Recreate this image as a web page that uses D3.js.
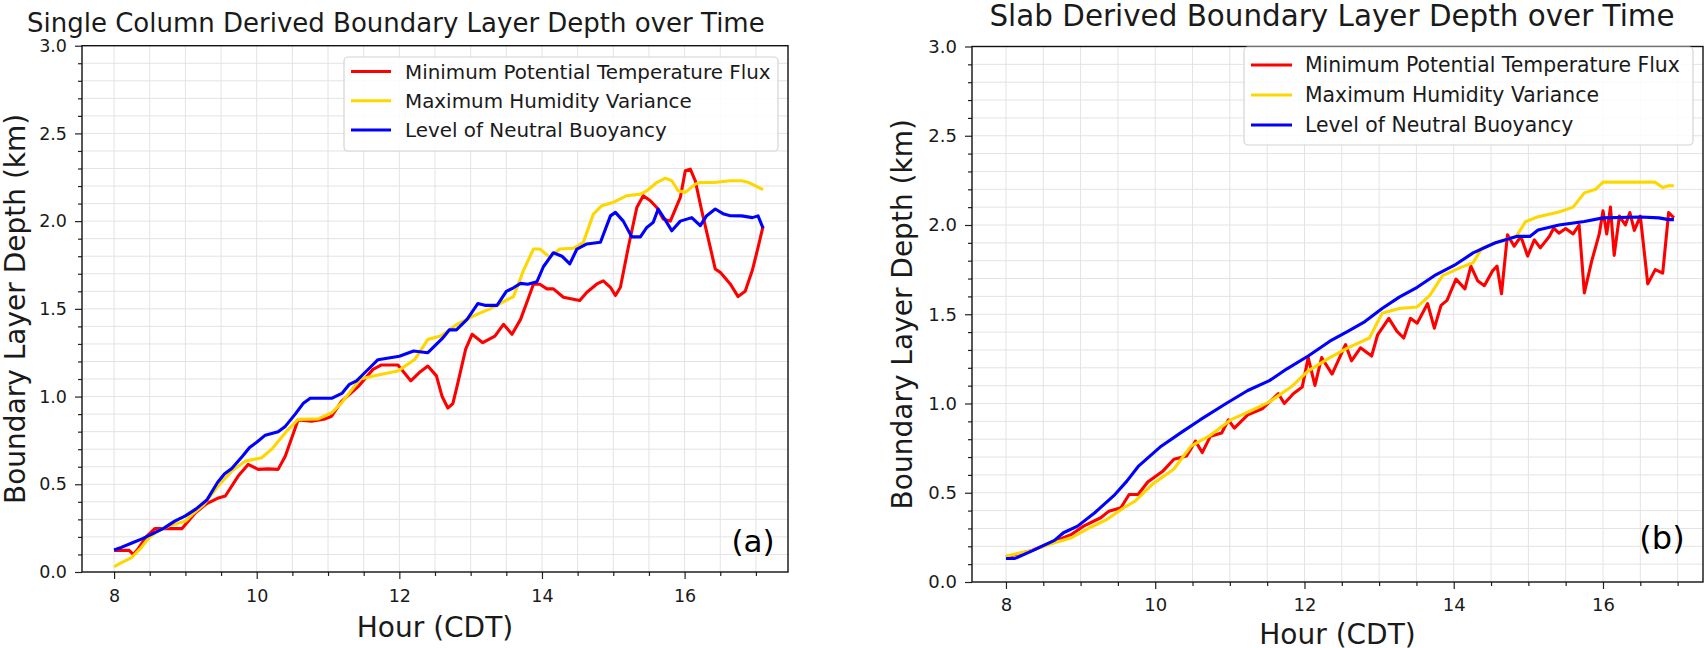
<!DOCTYPE html>
<html>
<head>
<meta charset="utf-8">
<script src="https://cdn.jsdelivr.net/npm/d3@7"></script>
<style>
  body { margin: 0; background: #fff; }
  svg { display: block; font-family: "DejaVu Sans", sans-serif; }
</style>
</head>
<body>
<svg id="fig" width="1708" height="648"></svg>
<script>
// ---- data (hour CDT, depth km) ----
const seriesNames = ["Minimum Potential Temperature Flux", "Maximum Humidity Variance", "Level of Neutral Buoyancy"];
const xTicks = [8, 10, 12, 14, 16];
const yTicks = [0, 0.5, 1.0, 1.5, 2.0, 2.5, 3.0];
const panelTitles = ["Single Column Derived Boundary Layer Depth over Time", "Slab Derived Boundary Layer Depth over Time"];
const panelLetters = ["(a)", "(b)"];

// (a) single column
const colMPTF = [[8.0,0.123],[8.21,0.123],[8.27,0.10],[8.33,0.128],[8.45,0.2],[8.57,0.247],[8.95,0.247],[9.14,0.338],[9.3,0.39],[9.45,0.42],[9.56,0.433],[9.74,0.547],[9.88,0.613],[10.02,0.585],[10.16,0.588],[10.30,0.585],[10.40,0.66],[10.58,0.866],[10.77,0.86],[10.96,0.873],[11.05,0.888],[11.19,0.973],[11.43,1.06],[11.63,1.155],[11.75,1.18],[11.98,1.18],[12.16,1.09],[12.28,1.137],[12.40,1.174],[12.52,1.118],[12.6,1.0],[12.68,0.935],[12.75,0.96],[12.81,1.06],[12.93,1.27],[13.02,1.355],[13.17,1.307],[13.34,1.345],[13.46,1.412],[13.58,1.355],[13.70,1.44],[13.8,1.55],[13.88,1.64],[13.97,1.64],[14.07,1.614],[14.16,1.614],[14.30,1.566],[14.53,1.547],[14.63,1.595],[14.77,1.642],[14.86,1.66],[14.96,1.623],[15.03,1.576],[15.10,1.623],[15.21,1.85],[15.33,2.078],[15.42,2.145],[15.52,2.116],[15.61,2.078],[15.70,2.012],[15.80,2.0],[15.94,2.135],[16.01,2.287],[16.08,2.296],[16.15,2.23],[16.24,2.06],[16.36,1.85],[16.43,1.727],[16.50,1.708],[16.64,1.642],[16.75,1.57],[16.85,1.6],[16.95,1.72],[17.03,1.85],[17.1,1.97]];
const colMHV = [[8.0,0.03],[8.09,0.05],[8.24,0.08],[8.36,0.13],[8.5,0.2],[8.6,0.23],[8.76,0.262],[9.0,0.29],[9.1,0.33],[9.25,0.38],[9.46,0.49],[9.65,0.575],[9.84,0.632],[10.07,0.651],[10.21,0.70],[10.44,0.812],[10.58,0.87],[10.86,0.873],[11.05,0.907],[11.19,0.964],[11.45,1.10],[11.75,1.127],[11.98,1.146],[12.22,1.213],[12.40,1.326],[12.58,1.345],[12.81,1.412],[13.04,1.46],[13.27,1.5],[13.60,1.57],[13.74,1.718],[13.88,1.841],[13.97,1.841],[14.11,1.794],[14.25,1.841],[14.44,1.845],[14.58,1.879],[14.72,2.04],[14.84,2.088],[15.0,2.107],[15.19,2.145],[15.38,2.154],[15.47,2.173],[15.61,2.22],[15.73,2.245],[15.82,2.23],[15.91,2.173],[16.01,2.164],[16.15,2.211],[16.22,2.22],[16.41,2.22],[16.64,2.23],[16.8,2.23],[16.9,2.22],[17.0,2.2],[17.1,2.18]];
const colLNB = [[8.0,0.125],[8.1,0.14],[8.25,0.165],[8.4,0.19],[8.55,0.22],[8.7,0.25],[8.85,0.29],[9.0,0.32],[9.15,0.36],[9.3,0.41],[9.45,0.51],[9.55,0.56],[9.65,0.59],[9.8,0.66],[9.9,0.71],[10.0,0.74],[10.12,0.78],[10.3,0.8],[10.4,0.83],[10.54,0.9],[10.65,0.96],[10.75,0.99],[10.85,0.99],[11.05,0.99],[11.2,1.02],[11.3,1.07],[11.4,1.09],[11.5,1.13],[11.6,1.17],[11.7,1.21],[11.85,1.22],[12.0,1.23],[12.2,1.26],[12.4,1.25],[12.5,1.29],[12.6,1.33],[12.7,1.38],[12.8,1.38],[12.95,1.44],[13.1,1.53],[13.2,1.52],[13.37,1.52],[13.5,1.6],[13.6,1.62],[13.7,1.645],[13.8,1.64],[13.93,1.655],[14.02,1.74],[14.16,1.82],[14.28,1.8],[14.39,1.756],[14.49,1.841],[14.63,1.87],[14.82,1.88],[14.96,2.03],[15.03,2.05],[15.14,2.0],[15.26,1.91],[15.38,1.91],[15.47,1.964],[15.56,1.993],[15.63,2.069],[15.75,1.993],[15.82,1.945],[15.94,2.0],[16.1,2.02],[16.22,1.974],[16.31,2.031],[16.43,2.069],[16.55,2.04],[16.64,2.031],[16.8,2.03],[16.95,2.02],[17.03,2.03],[17.07,1.99],[17.1,1.96]];

// (b) slab
const slabMPTF = [[8.0,0.14],[8.35,0.177],[8.65,0.229],[8.88,0.267],[9.04,0.313],[9.27,0.36],[9.38,0.397],[9.54,0.416],[9.65,0.49],[9.77,0.49],[9.9,0.56],[10.1,0.62],[10.25,0.688],[10.42,0.706],[10.54,0.789],[10.63,0.725],[10.74,0.817],[10.89,0.835],[10.98,0.908],[11.06,0.862],[11.24,0.936],[11.44,0.972],[11.65,1.055],[11.73,1.0],[11.85,1.055],[11.97,1.092],[12.05,1.257],[12.14,1.101],[12.23,1.257],[12.37,1.165],[12.55,1.33],[12.63,1.239],[12.75,1.312],[12.90,1.266],[12.98,1.385],[13.13,1.477],[13.24,1.404],[13.33,1.367],[13.42,1.477],[13.51,1.45],[13.65,1.56],[13.74,1.422],[13.83,1.55],[13.91,1.578],[14.03,1.697],[14.15,1.642],[14.23,1.77],[14.32,1.688],[14.41,1.66],[14.52,1.743],[14.58,1.77],[14.64,1.615],[14.72,1.945],[14.81,1.881],[14.90,1.936],[14.99,1.826],[15.08,1.917],[15.16,1.872],[15.28,1.936],[15.34,1.982],[15.41,1.954],[15.5,1.98],[15.6,1.95],[15.68,2.0],[15.75,1.62],[15.85,1.8],[15.95,1.95],[16.0,2.08],[16.05,1.95],[16.1,2.1],[16.15,1.83],[16.22,2.05],[16.3,2.0],[16.36,2.07],[16.42,1.97],[16.5,2.05],[16.6,1.67],[16.7,1.75],[16.8,1.73],[16.88,2.07],[16.95,2.04]];
const slabMHV = [[8.0,0.145],[8.35,0.177],[8.65,0.22],[8.88,0.248],[9.12,0.304],[9.35,0.35],[9.58,0.416],[9.73,0.453],[9.96,0.547],[10.25,0.633],[10.48,0.761],[10.72,0.817],[11.01,0.908],[11.30,0.963],[11.53,1.009],[11.82,1.092],[12.05,1.183],[12.34,1.257],[12.58,1.312],[12.87,1.367],[13.04,1.505],[13.27,1.532],[13.51,1.541],[13.68,1.606],[13.85,1.716],[14.09,1.761],[14.26,1.789],[14.38,1.872],[14.61,1.908],[14.84,1.936],[14.96,2.018],[15.13,2.046],[15.41,2.073],[15.6,2.1],[15.75,2.18],[15.9,2.2],[16.0,2.24],[16.7,2.24],[16.8,2.21],[16.88,2.22],[16.95,2.22]];
const slabLNB = [[8.0,0.132],[8.12,0.132],[8.35,0.174],[8.65,0.233],[8.77,0.276],[8.96,0.313],[9.19,0.388],[9.46,0.49],[9.62,0.565],[9.78,0.651],[10.08,0.761],[10.37,0.844],[10.60,0.908],[10.95,1.0],[11.24,1.073],[11.53,1.128],[11.76,1.193],[12.05,1.266],[12.34,1.349],[12.58,1.404],[12.81,1.459],[13.04,1.532],[13.27,1.596],[13.51,1.651],[13.74,1.716],[14.03,1.78],[14.26,1.844],[14.55,1.899],[14.84,1.936],[15.02,1.936],[15.13,1.972],[15.41,2.0],[15.75,2.02],[16.0,2.04],[16.5,2.045],[16.75,2.04],[16.88,2.03],[16.95,2.03]];

const colours = ["#ff0000", "#ffd700", "#0000ff"];
const ink = "#1a1a1a";

const svg = d3.select("#fig");

function drawPanel(p) {
  const x = d3.scaleLinear().domain(p.xDomain).range([p.l, p.r]);
  const y = d3.scaleLinear().domain([0, 3]).range([p.b, p.t]);
  const g = svg.append("g");

  // grid, every minor step
  const xGrid = d3.range(8, 17.01, 0.5);
  const yGrid = d3.range(0.1, 2.95, 0.1);
  g.append("g").selectAll("line").data(xGrid).join("line")
    .attr("x1", d => x(d)).attr("x2", d => x(d))
    .attr("y1", p.t).attr("y2", p.b)
    .attr("stroke", "#e3e3e3").attr("stroke-width", 1);
  g.append("g").selectAll("line").data(yGrid).join("line")
    .attr("x1", p.l).attr("x2", p.r)
    .attr("y1", d => y(d)).attr("y2", d => y(d))
    .attr("stroke", "#e3e3e3").attr("stroke-width", 1);

  // lines
  const clipId = "clip" + p.key;
  g.append("clipPath").attr("id", clipId).append("rect")
    .attr("x", p.l).attr("y", p.t).attr("width", p.r - p.l).attr("height", p.b - p.t);
  const line = d3.line().x(d => x(d[0])).y(d => y(d[1]));
  g.append("g").attr("clip-path", `url(#${clipId})`)
    .selectAll("path").data(p.series).join("path")
    .attr("fill", "none")
    .attr("stroke", (d, i) => colours[i])
    .attr("stroke-width", 3.1)
    .attr("stroke-linejoin", "round")
    .attr("d", d => line(d));

  // axes (major + minor ticks)
  const xMinor = d3.range(7.5, 17.6, 0.5).filter(v => !xTicks.includes(v) && v >= p.xDomain[0] && v <= p.xDomain[1]);
  const yMinor = d3.range(0, 3.01, 0.1).map(v => +v.toFixed(1)).filter(v => !yTicks.includes(v));

  g.append("g").attr("transform", `translate(0,${p.b})`)
    .call(d3.axisBottom(x).tickValues(xTicks).tickSize(7).tickPadding(p.xPad).tickFormat(d3.format("d")));
  g.append("g").attr("transform", `translate(0,${p.b})`)
    .call(d3.axisBottom(x).tickValues(xMinor).tickSize(4).tickFormat(""));
  g.append("g").attr("transform", `translate(${p.l},0)`)
    .call(d3.axisLeft(y).tickValues(yTicks).tickSize(7).tickPadding(8).tickFormat(d3.format(".1f")));
  g.append("g").attr("transform", `translate(${p.l},0)`)
    .call(d3.axisLeft(y).tickValues(yMinor).tickSize(4).tickFormat(""));

  g.selectAll(".domain").remove();
  g.selectAll(".tick line").attr("stroke", "#222").attr("stroke-width", 1.2);
  g.selectAll(".tick text").attr("fill", ink).attr("font-size", p.fs.tick)
    .attr("font-family", "DejaVu Sans");

  // spines
  g.append("rect")
    .attr("x", p.l).attr("y", p.t).attr("width", p.r - p.l).attr("height", p.b - p.t)
    .attr("fill", "none").attr("stroke", "#111").attr("stroke-width", 1.4);

  // title and axis labels
  g.append("text")
    .attr("x", p.titleX).attr("y", p.titleY)
    .attr("text-anchor", p.titleAnchor).attr("font-size", p.fs.title).attr("fill", ink)
    .text(p.title);
  g.append("text")
    .attr("x", (p.l + p.r) / 2).attr("y", p.xLabelY)
    .attr("text-anchor", "middle").attr("font-size", p.fs.label).attr("fill", ink)
    .text("Hour (CDT)");
  g.append("text")
    .attr("transform", `translate(${p.yLabelX},${(p.t + p.b) / 2}) rotate(-90)`)
    .attr("text-anchor", "middle").attr("dy", "0.35em")
    .attr("font-size", p.fs.label).attr("fill", ink)
    .text("Boundary Layer Depth (km)");

  // panel letter
  g.append("text")
    .attr("x", p.letterX).attr("y", p.letterY)
    .attr("text-anchor", "middle").attr("dy", "0.35em")
    .attr("font-size", p.fs.letter).attr("fill", "#000")
    .text(p.letter);

  // legend
  const lg = p.legend;
  const leg = g.append("g");
  leg.append("rect")
    .attr("x", lg.x).attr("y", lg.y).attr("width", lg.w).attr("height", lg.h)
    .attr("rx", 4).attr("fill", "#fff").attr("fill-opacity", 0.85)
    .attr("stroke", "#d4d4d4").attr("stroke-width", 1.2);
  seriesNames.forEach((name, i) => {
    const cy = lg.row0 + i * lg.step;
    leg.append("line")
      .attr("x1", lg.x + 7).attr("x2", lg.x + 7 + lg.handle)
      .attr("y1", cy).attr("y2", cy)
      .attr("stroke", colours[i]).attr("stroke-width", 3);
    leg.append("text")
      .attr("x", lg.textX).attr("y", cy).attr("dy", "0.36em")
      .attr("font-size", p.fs.legend).attr("fill", ink)
      .text(name);
  });
}

drawPanel({
  key: "a",
  l: 82, r: 788, t: 45.7, b: 572,
  xDomain: [7.55, 17.45],
  xPad: 11,
  series: [colMPTF, colMHV, colLNB],
  title: panelTitles[0], titleX: 27, titleAnchor: "start", titleY: 32,
  xLabelY: 637, yLabelX: 15,
  letter: panelLetters[0], letterX: 753, letterY: 541,
  fs: { title: 26, label: 28, tick: 17.5, legend: 19.9, letter: 31 },
  legend: { x: 344, y: 57, w: 434, h: 94, row0: 71.5, step: 29.3, handle: 40, textX: 405 }
});

drawPanel({
  key: "b",
  l: 972, r: 1703, t: 46.5, b: 582,
  xDomain: [7.545, 17.34],
  xPad: 9,
  series: [slabMPTF, slabMHV, slabLNB],
  title: panelTitles[1], titleX: 1332, titleAnchor: "middle", titleY: 26,
  xLabelY: 643.5, yLabelX: 902,
  letter: panelLetters[1], letterX: 1662, letterY: 538,
  fs: { title: 29.4, label: 28, tick: 18, legend: 20.4, letter: 32 },
  legend: { x: 1244, y: 47, w: 449, h: 98, row0: 65, step: 30, handle: 41, textX: 1305 }
});
</script>
</body>
</html>
